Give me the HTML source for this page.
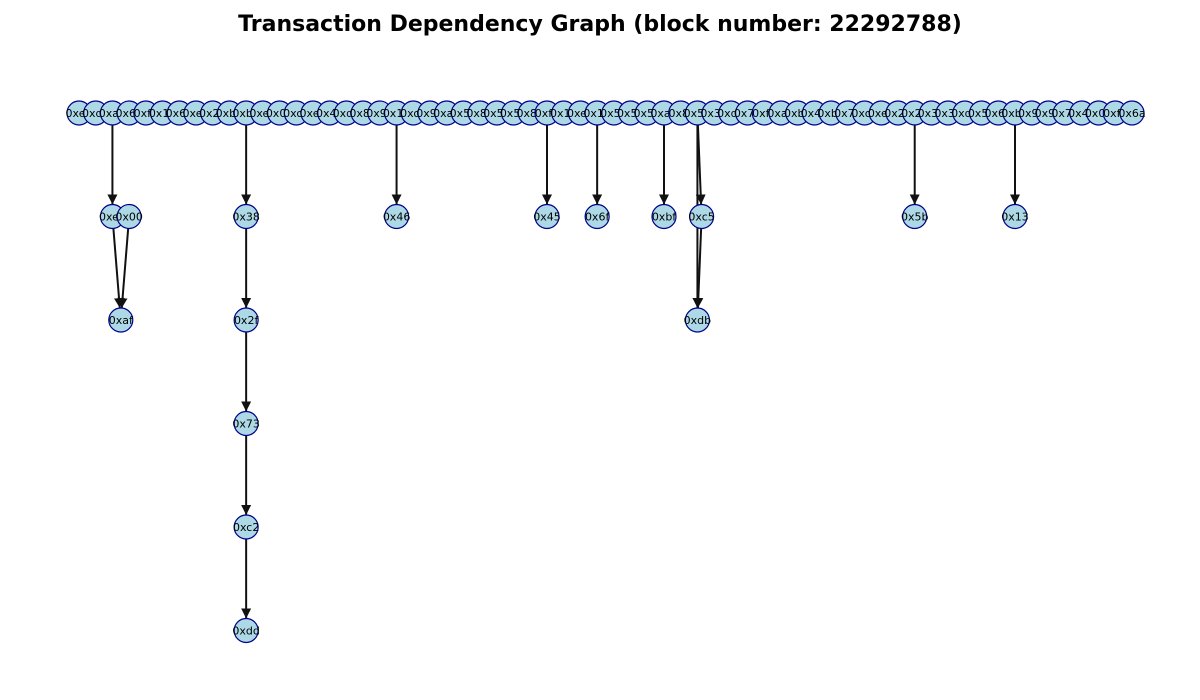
<!DOCTYPE html>
<html><head><meta charset="utf-8"><style>
body{margin:0;background:#fff;}
svg{display:block;font-family:"DejaVu Sans","Liberation Sans",sans-serif;}
</style></head><body>
<svg id="g" width="1200" height="700" viewBox="0 0 1200 700">
<text x="600" y="31" text-anchor="middle" font-size="22" font-weight="bold">Transaction Dependency Graph (block number: 22292788)</text>
<defs><marker id="ah" viewBox="0 0 10 10" refX="10" refY="5" markerWidth="5" markerHeight="5" orient="auto"><path d="M0,0L10,5L0,10z" fill="#111"/></marker></defs>
</svg>
<script>
const topLabels=["0xe0","0xd5","0xa5","0x6a","0xf2","0x15","0x6a","0xe6","0x20","0xb1","0xb0","0xe0","0x02","0xc0","0xe9","0x45","0xd3","0x8b","0x9a","0x15","0xc4","0x99","0xa0","0x56","0x83","0x50","0x56","0x80","0xf1","0x10","0xe0","0x19","0x50","0x5a","0x51","0xa1","0x8f","0x51","0x39","0xd6","0x78","0xf0","0xa4","0xb0","0x47","0xb6","0x71","0xc0","0xe0","0x20","0x2a","0x35","0x30","0xd3","0x56","0x60","0xb0","0x91","0x95","0x78","0x40","0x05","0xf0","0x6a"];
const extraLabels=["0xe9","0x00","0xaf","0x38","0x2f","0x73","0xc2","0xdd","0x46","0x45","0x6f","0xbf","0xc5","0xdb","0x5b","0x13"];
const extraCol=[2,3,2.5,10,10,10,10,10,19,28,31,35,37.25,37,50,56];
const extraLevel=[1,1,2,1,2,3,4,5,1,1,1,1,1,2,1,1];
const edges=[["t2","e0"],["e0","e2"],["e1","e2"],["t10","e3"],["e3","e4"],["e4","e5"],["e5","e6"],["e6","e7"],["t19","e8"],["t28","e9"],["t31","e10"],["t35","e11"],["t37","e12"],["t37","e13"],["e12","e13"],["t50","e14"],["t56","e15"]];
const X=c=>79+c*(1132-79)/63, Y=l=>113+l*103.5, R=12;
const svg=document.getElementById('g'), NS="http://www.w3.org/2000/svg";
function pos(id){const i=+id.slice(1);return id[0]=='t'?[X(i),Y(0)]:[X(extraCol[i]),Y(extraLevel[i])];}
edges.forEach(([a,b])=>{const [x1,y1]=pos(a),[x2,y2]=pos(b);const d=Math.hypot(x2-x1,y2-y1);const ux=(x2-x1)/d,uy=(y2-y1)/d;
const l=document.createElementNS(NS,'line');
l.setAttribute('x1',x1);l.setAttribute('y1',y1);l.setAttribute('x2',x2-ux*R);l.setAttribute('y2',y2-uy*R);
l.setAttribute('stroke','#111');l.setAttribute('stroke-width','2');l.setAttribute('marker-end','url(#ah)');


svg.appendChild(l);});
function node(x,y,t){const g=document.createElementNS(NS,'g');


const c=document.createElementNS(NS,'circle');c.setAttribute('cx',x);c.setAttribute('cy',y);c.setAttribute('r',R);c.setAttribute('fill','#add8e6');c.setAttribute('stroke','#00008b');c.setAttribute('stroke-width','1.2');g.appendChild(c);
const tx=document.createElementNS(NS,'text');tx.setAttribute('x',x);tx.setAttribute('y',y+4);tx.setAttribute('text-anchor','middle');tx.setAttribute('font-size','11');tx.textContent=t;g.appendChild(tx);svg.appendChild(g);}
topLabels.forEach((t,i)=>node(X(i),Y(0),t));
extraLabels.forEach((t,i)=>node(X(extraCol[i]),Y(extraLevel[i]),t));
</script>
</body></html>
